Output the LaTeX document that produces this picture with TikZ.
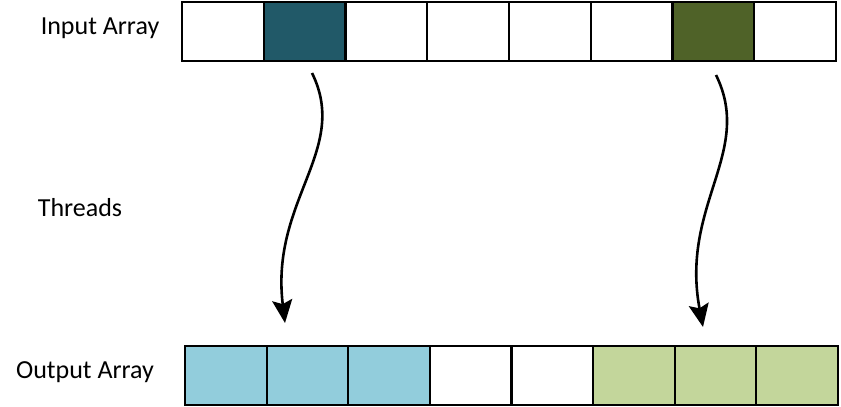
\documentclass[tikz,border=0pt]{standalone}
\usepackage{fontspec}
\setmainfont{Carlito}
\usetikzlibrary{arrows.meta}

\definecolor{tealdark}{HTML}{215968}
\definecolor{olivedark}{HTML}{4F6228}
\definecolor{bluelight}{HTML}{92CDDC}
\definecolor{greenlight}{HTML}{C3D69B}

\begin{document}
\begin{tikzpicture}[x=1pt,y=-1pt,
    cell/.style={draw=black,line width=2pt,inner sep=0pt,outer sep=0pt,
      minimum width=81.7pt,minimum height=59pt},
    lbl/.style={font=\fontsize{26}{30}\selectfont,inner sep=0pt},
    thread/.style={line width=2.6pt,-{Stealth[length=23pt,width=20pt,inset=4pt]}}]
    \useasboundingbox (0,0) rectangle (841,407);
    % labels
    \node[lbl] (lblin) at (100,28) {Input Array};
    \node[lbl] (lblthr) at (80,208) {Threads};
    \node[lbl] (lblout) at (85,372) {Output Array};
    % input array
    \node[cell] (in1) at (222.9,31.5) {};
    \node[cell,fill=tealdark] (in2) at (304.6,31.5) {};
    \node[cell] (in3) at (386.4,31.5) {};
    \node[cell] (in4) at (468.1,31.5) {};
    \node[cell] (in5) at (549.9,31.5) {};
    \node[cell] (in6) at (631.6,31.5) {};
    \node[cell,fill=olivedark] (in7) at (713.4,31.5) {};
    \node[cell] (in8) at (795.1,31.5) {};
    % output array
    \node[cell,fill=bluelight] (out1) at (225.8,375) {};
    \node[cell,fill=bluelight] (out2) at (307.4,375) {};
    \node[cell,fill=bluelight] (out3) at (389.0,375) {};
    \node[cell] (out4) at (470.7,375) {};
    \node[cell] (out5) at (552.3,375) {};
    \node[cell,fill=greenlight] (out6) at (633.9,375) {};
    \node[cell,fill=greenlight] (out7) at (715.6,375) {};
    \node[cell,fill=greenlight] (out8) at (797.2,375) {};
    % threads
    \coordinate (t1a) at (312,73);
    \coordinate (t1b) at (285,323);
    \coordinate (t2a) at (716,75);
    \coordinate (t2b) at (703,327);
    \draw[thread] (t1a) .. controls (350,150) and (270,200) .. (t1b);
    \draw[thread] (t2a) .. controls (754,152) and (680,205) .. (t2b);
\end{tikzpicture}
\end{document}
